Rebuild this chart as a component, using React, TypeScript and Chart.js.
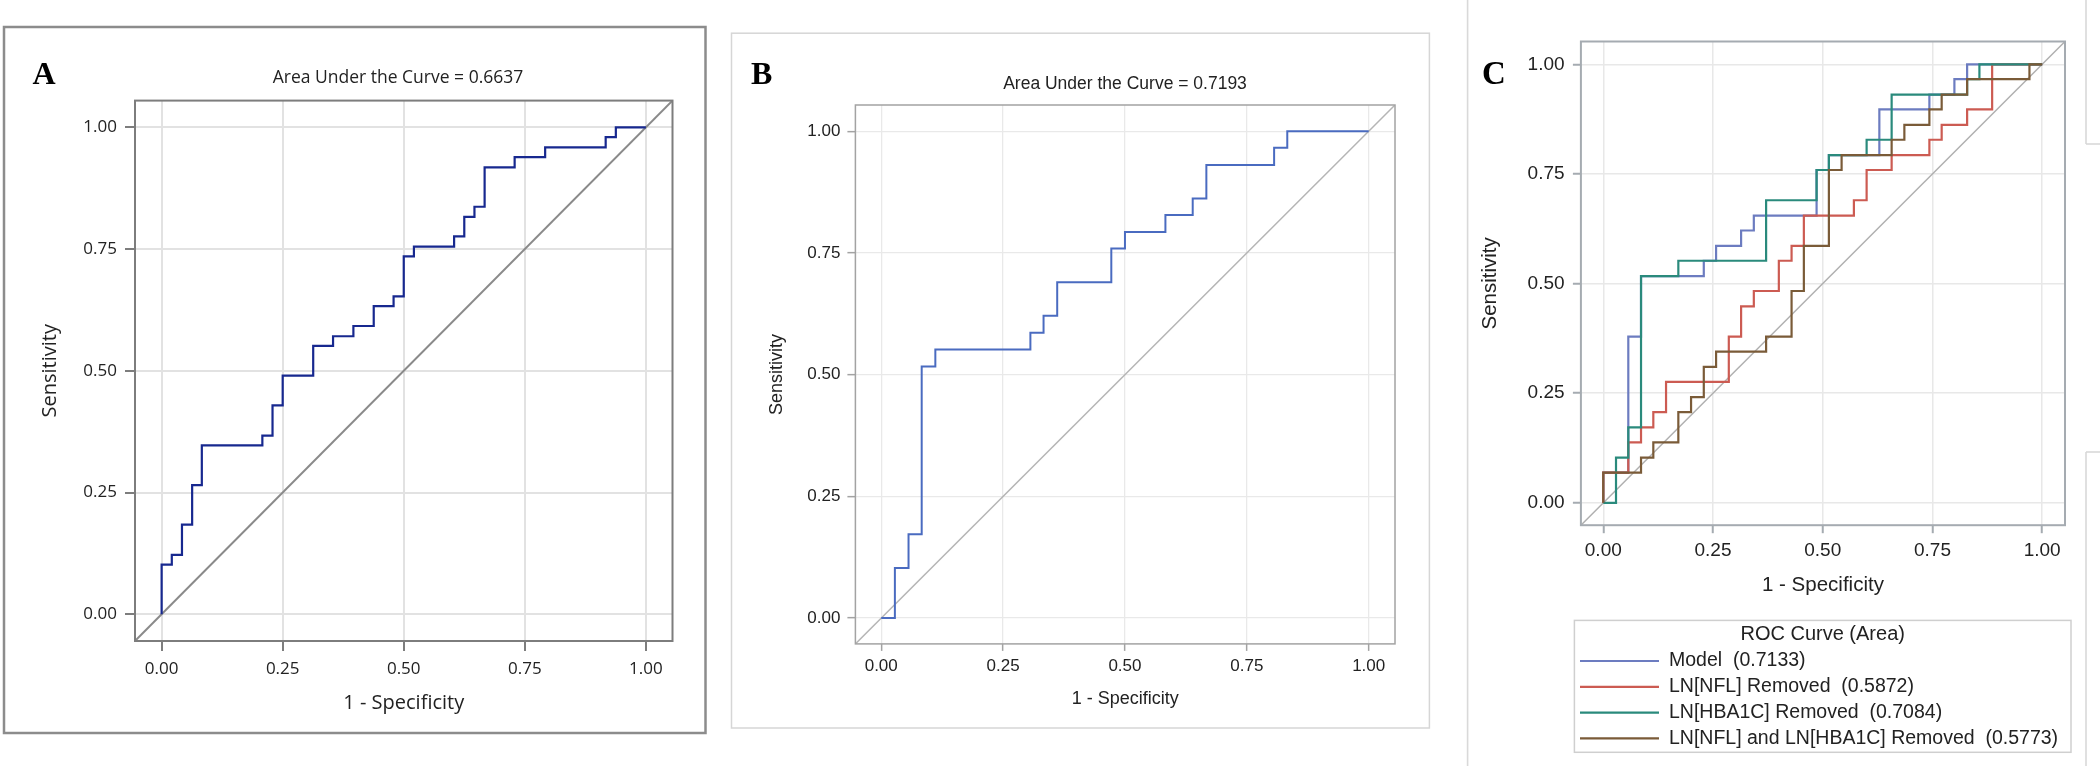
import React, { useEffect, useRef } from "react";
import { Chart, registerables } from "chart.js";

Chart.register(...registerables);

/* ---------------- data ---------------- */
const tickValues = [0, 0.25, 0.5, 0.75, 1];
const xAxisTitle = "1 - Specificity";
const yAxisTitle = "Sensitivity";

// Panel A
const panelALetter = "A";
const panelATitle = "Area Under the Curve = 0.6637";
const panelAFpr = [0, 0, 0.021, 0.042, 0.063, 0.083, 0.208, 0.229, 0.25, 0.313, 0.354, 0.396, 0.438, 0.479, 0.5, 0.521, 0.604, 0.625, 0.646, 0.667, 0.729, 0.792, 0.917, 0.938, 1];
const panelATpr = [0, 0.102, 0.122, 0.184, 0.265, 0.347, 0.367, 0.429, 0.49, 0.551, 0.571, 0.592, 0.633, 0.653, 0.735, 0.755, 0.776, 0.816, 0.837, 0.918, 0.939, 0.959, 0.98, 1, 1];

// Panel B
const panelBLetter = "B";
const panelBTitle = "Area Under the Curve = 0.7193";
const panelBFpr = [0, 0.028, 0.056, 0.083, 0.111, 0.306, 0.333, 0.361, 0.472, 0.5, 0.583, 0.639, 0.667, 0.806, 0.833, 1];
const panelBTpr = [0, 0.103, 0.172, 0.517, 0.552, 0.586, 0.621, 0.69, 0.759, 0.793, 0.828, 0.862, 0.931, 0.966, 1, 1];

// Panel C
const panelCLetter = "C";
const legendTitle = "ROC Curve (Area)";
const seriesNames = ["Model", "LN[NFL] Removed", "LN[HBA1C] Removed", "LN[NFL] and LN[HBA1C] Removed"];
const seriesAreas = ["0.7133", "0.5872", "0.7084", "0.5773"];

const modelFpr = [0, 0, 0.057, 0.086, 0.229, 0.257, 0.314, 0.343, 0.486, 0.514, 0.629, 0.743, 0.8, 0.829, 1];
const modelTpr = [0, 0.069, 0.379, 0.517, 0.552, 0.586, 0.621, 0.655, 0.759, 0.793, 0.897, 0.931, 0.966, 1, 1];

const nflFpr = [0, 0, 0.057, 0.086, 0.114, 0.143, 0.286, 0.314, 0.343, 0.4, 0.429, 0.457, 0.571, 0.6, 0.657, 0.743, 0.771, 0.829, 0.886, 1];
const nflTpr = [0, 0.069, 0.138, 0.172, 0.207, 0.276, 0.379, 0.448, 0.483, 0.552, 0.586, 0.655, 0.69, 0.759, 0.793, 0.828, 0.862, 0.897, 1, 1];

const hbaFpr = [0, 0.029, 0.057, 0.086, 0.171, 0.371, 0.486, 0.514, 0.6, 0.657, 0.829, 0.857, 1];
const hbaTpr = [0, 0.103, 0.172, 0.517, 0.552, 0.69, 0.759, 0.793, 0.828, 0.931, 0.966, 1, 1];

const bothFpr = [0, 0, 0.086, 0.114, 0.171, 0.2, 0.229, 0.257, 0.371, 0.429, 0.457, 0.514, 0.543, 0.657, 0.686, 0.743, 0.771, 0.829, 0.971, 1];
const bothTpr = [0, 0.069, 0.103, 0.138, 0.207, 0.241, 0.31, 0.345, 0.379, 0.483, 0.586, 0.759, 0.793, 0.828, 0.862, 0.897, 0.931, 0.966, 1, 1];

/* ---------------- layout / style ---------------- */
const W = 2100;
const H = 766;

type Panel = {
  frame: { l: number; t: number; r: number; b: number };
  min: number;
  max: number;
  font: string;
  tickSize: number;
  titleSize: number;
  yw: number;
  xh: number;
  ytl: number;
  ypad: number;
  xtl: number;
  xpad: number;
  gridColor: string;
  gridWidth: number;
  frameColor: string;
  frameWidth: number;
  textColor: string;
};

const pts = (xs: number[], ys: number[]) => xs.map((x, i) => ({ x, y: ys[i] }));

const decorPlugin = {
  id: "decor",
  beforeDraw(chart: any, _a: any, o: any) {
    const ctx = chart.ctx;
    ctx.save();
    (o.rects || []).forEach((r: any) => {
      ctx.strokeStyle = r.color;
      ctx.lineWidth = r.width;
      ctx.strokeRect(r.x, r.y, r.w, r.h);
    });
    (o.lines || []).forEach((l: number[]) => {
      ctx.strokeStyle = o.lineColor;
      ctx.lineWidth = o.lineWidth;
      ctx.beginPath();
      ctx.moveTo(l[0], l[1]);
      ctx.lineTo(l[2], l[3]);
      ctx.stroke();
    });
    if (o.letter) {
      ctx.fillStyle = "#000";
      ctx.font = o.letter.font;
      ctx.textAlign = "left";
      ctx.textBaseline = "alphabetic";
      ctx.fillText(o.letter.text, o.letter.x, o.letter.y);
    }
    if (o.title) {
      ctx.fillStyle = o.title.color;
      ctx.font = o.title.font;
      ctx.textAlign = "center";
      ctx.textBaseline = "middle";
      ctx.fillText(o.title.text, o.title.x, o.title.y);
    }
    ctx.restore();
  },
  afterDatasetsDraw(chart: any, _a: any, o: any) {
    const ctx = chart.ctx;
    const { left, top, right, bottom } = chart.chartArea;
    ctx.save();
    ctx.strokeStyle = o.frameColor;
    ctx.lineWidth = o.frameWidth;
    ctx.strokeRect(left, top, right - left, bottom - top);
    ctx.restore();
  },
  afterDraw(chart: any, _a: any, o: any) {
    const L = o.legend;
    if (!L) return;
    const ctx = chart.ctx;
    ctx.save();
    ctx.strokeStyle = L.border;
    ctx.lineWidth = 1.5;
    ctx.strokeRect(L.x, L.y, L.w, L.h);
    ctx.fillStyle = L.color;
    ctx.font = L.titleFont;
    ctx.textAlign = "center";
    ctx.textBaseline = "middle";
    ctx.fillText(L.title, L.x + L.w / 2, L.titleY);
    ctx.font = L.font;
    ctx.textAlign = "left";
    let k = 0;
    chart.data.datasets.forEach((ds: any) => {
      if (!ds.label) return;
      const y = L.rowY0 + k * L.rowStep;
      ctx.strokeStyle = ds.borderColor;
      ctx.lineWidth = 2.2;
      ctx.beginPath();
      ctx.moveTo(L.lineX0, y);
      ctx.lineTo(L.lineX1, y);
      ctx.stroke();
      ctx.fillStyle = L.color;
      ctx.fillText(ds.label, L.textX, y);
      k++;
    });
    ctx.restore();
  },
};

function buildOptions(p: Panel, decor: any) {
  const scale = (axis: "x" | "y") => ({
    type: "linear",
    position: axis === "x" ? "bottom" : "left",
    min: p.min,
    max: p.max,
    afterBuildTicks: (s: any) => {
      s.ticks = tickValues.map((v) => ({ value: v }));
    },
    afterFit: (s: any) => {
      if (axis === "x") s.height = p.xh;
      else s.width = p.yw;
    },
    ticks: {
      callback: (v: any) => Number(v).toFixed(2),
      font: { family: p.font, size: p.tickSize },
      color: p.textColor,
      padding: axis === "x" ? p.xpad : p.ypad,
      autoSkip: false,
      maxRotation: 0,
      minRotation: 0,
    },
    grid: {
      color: p.gridColor,
      lineWidth: p.gridWidth,
      drawTicks: true,
      tickLength: axis === "x" ? p.xtl : p.ytl,
      tickColor: p.frameColor,
      tickWidth: p.frameWidth,
    },
    border: { display: false },
    title: {
      display: true,
      text: axis === "x" ? xAxisTitle : yAxisTitle,
      font: { family: p.font, size: p.titleSize },
      color: p.textColor,
      padding: 0,
    },
  });
  return {
    responsive: false,
    animation: false,
    devicePixelRatio: 1,
    events: [],
    layout: {
      padding: {
        left: p.frame.l - p.yw,
        top: p.frame.t,
        right: W - p.frame.r,
        bottom: H - p.frame.b - p.xh,
      },
    },
    scales: { x: scale("x"), y: scale("y") },
    plugins: {
      legend: { display: false },
      tooltip: { enabled: false },
      title: { display: false },
      decor: { ...decor, frameColor: p.frameColor, frameWidth: p.frameWidth },
    },
    elements: { point: { radius: 0 }, line: { tension: 0 } },
  };
}

const rocLine = (label: string | undefined, xs: number[], ys: number[], color: string, width: number, order: number) => ({
  label,
  data: pts(xs, ys),
  showLine: true,
  stepped: "before",
  borderColor: color,
  backgroundColor: color,
  borderWidth: width,
  pointRadius: 0,
  fill: false,
  order,
});

const diagLine = (p: Panel, color: string, width: number) => ({
  label: undefined,
  data: [
    { x: p.min, y: p.min },
    { x: p.max, y: p.max },
  ],
  showLine: true,
  borderColor: color,
  borderWidth: width,
  pointRadius: 0,
  fill: false,
  order: 10,
});

/* ---------------- panels ---------------- */
const panelA: Panel = {
  frame: { l: 135, t: 100.6, r: 672.5, b: 641 },
  min: -0.055,
  max: 1.055,
  font: "Open Sans",
  tickSize: 17,
  titleSize: 20,
  yw: 97,
  xh: 74.5,
  ytl: 10,
  ypad: 8,
  xtl: 10,
  xpad: 8,
  gridColor: "#e2e2e2",
  gridWidth: 2,
  frameColor: "#7d7d7d",
  frameWidth: 2,
  textColor: "#222",
};

const panelB: Panel = {
  frame: { l: 855.4, t: 105, r: 1395, b: 643.9 },
  min: -0.053,
  max: 1.054,
  font: "Liberation Sans",
  tickSize: 17,
  titleSize: 18,
  yw: 88.8,
  xh: 65.5,
  ytl: 8,
  ypad: 7,
  xtl: 7,
  xpad: 5.7,
  gridColor: "#e9e9e9",
  gridWidth: 1.3,
  frameColor: "#a3a3a3",
  frameWidth: 1.5,
  textColor: "#222",
};

const panelC: Panel = {
  frame: { l: 1580.9, t: 41.5, r: 2065, b: 525.2 },
  min: -0.051,
  max: 1.052,
  font: "Liberation Sans",
  tickSize: 19,
  titleSize: 20.5,
  yw: 103.2,
  xh: 72.1,
  ytl: 8,
  ypad: 8.3,
  xtl: 8,
  xpad: 6,
  gridColor: "#e8e8e8",
  gridWidth: 1.5,
  frameColor: "#a5abb1",
  frameWidth: 2,
  textColor: "#222",
};

const seriesColors = ["#6c7cc0", "#cc5b52", "#2a8a7c", "#7a5b38"];

function buildA() {
  return {
    type: "scatter",
    data: {
      datasets: [
        rocLine(undefined, panelAFpr, panelATpr, "#17288f", 2.2, 1),
        diagLine(panelA, "#8a8a8a", 2),
      ],
    },
    options: buildOptions(panelA, {
      rects: [{ x: 4, y: 27, w: 701.5, h: 706, color: "#8c8c8c", width: 2.5 }],
      letter: { text: panelALetter, x: 32.5, y: 84, font: 'bold 32px "Liberation Serif"' },
      title: { text: panelATitle, x: 398, y: 78, font: '17.5px "Open Sans"', color: "#222" },
    }),
    plugins: [decorPlugin],
  };
}

function buildB() {
  return {
    type: "scatter",
    data: {
      datasets: [
        rocLine(undefined, panelBFpr, panelBTpr, "#4a6bc0", 2, 1),
        diagLine(panelB, "#b5b5b5", 1.5),
      ],
    },
    options: buildOptions(panelB, {
      rects: [{ x: 731.5, y: 33.2, w: 697.9, h: 694.8, color: "#d6d6d6", width: 1.5 }],
      letter: { text: panelBLetter, x: 751, y: 84, font: 'bold 32px "Liberation Serif"' },
      title: { text: panelBTitle, x: 1125, y: 84, font: '17.5px "Liberation Sans"', color: "#222" },
    }),
    plugins: [decorPlugin],
  };
}

function buildC() {
  const labels = seriesNames.map((n, i) => `${n}  (${seriesAreas[i]})`);
  return {
    type: "scatter",
    data: {
      datasets: [
        rocLine(labels[0], modelFpr, modelTpr, seriesColors[0], 2.2, 4),
        rocLine(labels[1], nflFpr, nflTpr, seriesColors[1], 2.2, 3),
        rocLine(labels[2], hbaFpr, hbaTpr, seriesColors[2], 2.2, 2),
        rocLine(labels[3], bothFpr, bothTpr, seriesColors[3], 2.2, 1),
        diagLine(panelC, "#b0b0b0", 1.5),
      ],
    },
    options: buildOptions(panelC, {
      lines: [
        [1467.6, 0, 1467.6, 766],
        [2086, 0, 2086, 144],
        [2086, 144, 2100, 144],
        [2086, 452, 2086, 766],
        [2086, 452, 2100, 452],
      ],
      lineColor: "#d9d9d9",
      lineWidth: 1.6,
      letter: { text: panelCLetter, x: 1482, y: 84, font: 'bold 33px "Liberation Serif"' },
      legend: {
        x: 1574.4,
        y: 620.4,
        w: 496.6,
        h: 131.9,
        border: "#cfcfcf",
        title: legendTitle,
        titleY: 634,
        titleFont: '20px "Liberation Sans"',
        rowY0: 661,
        rowStep: 25.8,
        lineX0: 1580,
        lineX1: 1659,
        textX: 1669,
        font: '19.5px "Liberation Sans"',
        color: "#222",
      },
    }),
    plugins: [decorPlugin],
  };
}

function PanelCanvas({ build }: { build: () => any }) {
  const ref = useRef<HTMLCanvasElement | null>(null);
  useEffect(() => {
    if (!ref.current) return;
    const chart = new Chart(ref.current, build());
    return () => chart.destroy();
  }, [build]);
  return (
    <canvas
      ref={ref}
      width={W}
      height={H}
      style={{ position: "absolute", left: 0, top: 0, width: W, height: H }}
    />
  );
}

export default function App() {
  return (
    <div
      style={{
        position: "absolute",
        left: 0,
        top: 0,
        width: W,
        height: H,
        background: "#ffffff",
        overflow: "hidden",
      }}
    >
      <PanelCanvas build={buildA} />
      <PanelCanvas build={buildB} />
      <PanelCanvas build={buildC} />
    </div>
  );
}
